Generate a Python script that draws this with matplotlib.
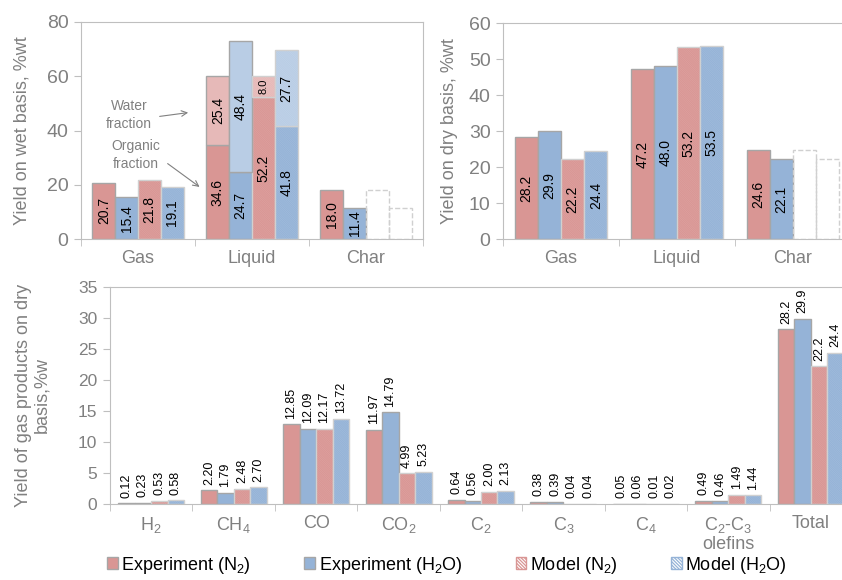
import numpy as np
import matplotlib
matplotlib.use('Agg')
import matplotlib.pyplot as plt
from matplotlib.patches import Patch

plt.rcParams['font.family'] = ['Liberation Sans', 'DejaVu Sans']
plt.rcParams['mathtext.default'] = 'regular'
plt.rcParams['hatch.linewidth'] = 0.9

# ---- data ----
top_cats = ['Gas', 'Liquid', 'Char']

# wet basis (%wt); liquid split in organic + water
wet_exp_n2 = [20.7, 34.6, 18.0]
wet_exp_h2o = [15.4, 24.7, 11.4]
wet_mod_n2 = [21.8, 52.2, 18.0]
wet_mod_h2o = [19.1, 41.8, 11.4]
water_exp_n2 = 25.4
water_exp_h2o = 48.4
water_mod_n2 = 8.0
water_mod_h2o = 27.7

# dry basis (%wt)
dry_exp_n2 = [28.2, 47.2, 24.6]
dry_exp_h2o = [29.9, 48.0, 22.1]
dry_mod_n2 = [22.2, 53.2, 24.6]
dry_mod_h2o = [24.4, 53.5, 22.1]

gas_cats = ['H$_2$', 'CH$_4$', 'CO', 'CO$_2$', 'C$_2$', 'C$_3$', 'C$_4$',
            'C$_2$-C$_3$\nolefins', 'Total']
gas_exp_n2 = [0.12, 2.20, 12.85, 11.97, 0.64, 0.38, 0.05, 0.49, 28.2]
gas_exp_h2o = [0.23, 1.79, 12.09, 14.79, 0.56, 0.39, 0.06, 0.46, 29.9]
gas_mod_n2 = [0.53, 2.48, 12.17, 4.99, 2.00, 0.04, 0.01, 1.49, 22.2]
gas_mod_h2o = [0.58, 2.70, 13.72, 5.23, 2.13, 0.04, 0.02, 1.44, 24.4]

series_names = ['Experiment (N$_2$)', 'Experiment (H$_2$O)',
                'Model (N$_2$)', 'Model (H$_2$O)']

RED = '#D99694'
BLUE = '#95B3D7'
LRED = '#E6B9B8'
LBLUE = '#B9CDE5'
EDGE = '#A6A6A6'
LEDGE = '#D0D0D0'
GREY = '#808080'
HATCH = '\\' * 18
W = 0.2
OFFS = [-0.3, -0.1, 0.1, 0.3]


def solid(ax, x, h, color, bottom=0):
    ax.bar(x, h, W, bottom=bottom, color=color, edgecolor=EDGE, linewidth=1)


def hatched(ax, x, h, color, bottom=0):
    ax.bar(x, h, W, bottom=bottom, color='white', edgecolor=color,
           hatch=HATCH, linewidth=0)
    ax.bar(x, h, W, bottom=bottom, fill=False, edgecolor=LEDGE, linewidth=1)


def dashed(ax, x, h):
    ax.bar(x, h, W, fill=False, edgecolor=LEDGE, linewidth=1, linestyle='--')


def style_axis(ax, ncat, ymax, ystep, ysize):
    for s in ax.spines.values():
        s.set_color('#BFBFBF')
    ax.set_xlim(-0.5, ncat - 0.5)
    ax.set_ylim(0, ymax)
    ax.set_yticks(np.arange(0, ymax + 0.1, ystep))
    ax.set_xticks(np.arange(-0.5, ncat), minor=True)
    ax.tick_params(axis='x', which='major', length=0, labelsize=13,
                   labelcolor=GREY, pad=8)
    ax.tick_params(axis='x', which='minor', length=5, color='#BFBFBF')
    ax.tick_params(axis='y', length=5, color='#BFBFBF', labelsize=ysize,
                   labelcolor=GREY, pad=4)


def inner_label(ax, x, bottom, h, text, size=10):
    ax.text(x, bottom + h / 2, text, rotation=90, ha='center', va='center',
            fontsize=size, color='black')


fig = plt.figure(figsize=(8.42, 5.80), dpi=100)
ax1 = fig.add_axes([81 / 842, 1 - 239 / 580, 342 / 842, 217 / 580])
ax2 = fig.add_axes([503 / 842, 1 - 239 / 580, 348 / 842, 216 / 580])
ax3 = fig.add_axes([110 / 842, 1 - 504 / 580, 742 / 842, 217 / 580])

# ---- wet basis ----
x = np.arange(len(top_cats))
for i in range(3):
    solid(ax1, x[i] + OFFS[0], wet_exp_n2[i], RED)
    solid(ax1, x[i] + OFFS[1], wet_exp_h2o[i], BLUE)
    inner_label(ax1, x[i] + OFFS[0], 0, wet_exp_n2[i], f'{wet_exp_n2[i]:.1f}')
    inner_label(ax1, x[i] + OFFS[1], 0, wet_exp_h2o[i], f'{wet_exp_h2o[i]:.1f}')
    if top_cats[i] == 'Char':
        dashed(ax1, x[i] + OFFS[2], wet_mod_n2[i])
        dashed(ax1, x[i] + OFFS[3], wet_mod_h2o[i])
    else:
        hatched(ax1, x[i] + OFFS[2], wet_mod_n2[i], RED)
        hatched(ax1, x[i] + OFFS[3], wet_mod_h2o[i], BLUE)
        inner_label(ax1, x[i] + OFFS[2], 0, wet_mod_n2[i], f'{wet_mod_n2[i]:.1f}')
        inner_label(ax1, x[i] + OFFS[3], 0, wet_mod_h2o[i], f'{wet_mod_h2o[i]:.1f}')

# water fraction on top of the liquid bars
li = top_cats.index('Liquid')
solid(ax1, li + OFFS[0], water_exp_n2, LRED, bottom=wet_exp_n2[li])
solid(ax1, li + OFFS[1], water_exp_h2o, LBLUE, bottom=wet_exp_h2o[li])
hatched(ax1, li + OFFS[2], water_mod_n2, LRED, bottom=wet_mod_n2[li])
hatched(ax1, li + OFFS[3], water_mod_h2o, LBLUE, bottom=wet_mod_h2o[li])
inner_label(ax1, li + OFFS[0], wet_exp_n2[li], water_exp_n2, f'{water_exp_n2:.1f}')
inner_label(ax1, li + OFFS[1], wet_exp_h2o[li], water_exp_h2o, f'{water_exp_h2o:.1f}')
inner_label(ax1, li + OFFS[2], wet_mod_n2[li], water_mod_n2, f'{water_mod_n2:.1f}', size=8)
inner_label(ax1, li + OFFS[3], wet_mod_h2o[li], water_mod_h2o, f'{water_mod_h2o:.1f}')

ax1.text(-0.08, 45.7, 'Water\nfraction', ha='center', va='center',
         fontsize=10, color=GREY, linespacing=1.3)
ax1.text(-0.02, 31, 'Organic\nfraction', ha='center', va='center',
         fontsize=10, color=GREY, linespacing=1.3)
arrow = dict(arrowstyle='->', color=GREY, lw=0.8, shrinkA=0, shrinkB=0)
ax1.annotate('', xy=(0.44, 46.6), xytext=(0.19, 45.2), arrowprops=arrow)
ax1.annotate('', xy=(0.54, 19.2), xytext=(0.26, 27.8), arrowprops=arrow)

style_axis(ax1, 3, 80, 20, 14)
ax1.set_xticks(x)
ax1.set_xticklabels(top_cats)
ax1.set_ylabel('Yield on wet basis, %wt', fontsize=13, color=GREY)
ax1.yaxis.set_label_coords(-0.148, 0.5)

# ---- dry basis ----
for i in range(3):
    solid(ax2, x[i] + OFFS[0], dry_exp_n2[i], RED)
    solid(ax2, x[i] + OFFS[1], dry_exp_h2o[i], BLUE)
    inner_label(ax2, x[i] + OFFS[0], 0, dry_exp_n2[i], f'{dry_exp_n2[i]:.1f}')
    inner_label(ax2, x[i] + OFFS[1], 0, dry_exp_h2o[i], f'{dry_exp_h2o[i]:.1f}')
    if top_cats[i] == 'Char':
        dashed(ax2, x[i] + OFFS[2], dry_mod_n2[i])
        dashed(ax2, x[i] + OFFS[3], dry_mod_h2o[i])
    else:
        hatched(ax2, x[i] + OFFS[2], dry_mod_n2[i], RED)
        hatched(ax2, x[i] + OFFS[3], dry_mod_h2o[i], BLUE)
        inner_label(ax2, x[i] + OFFS[2], 0, dry_mod_n2[i], f'{dry_mod_n2[i]:.1f}')
        inner_label(ax2, x[i] + OFFS[3], 0, dry_mod_h2o[i], f'{dry_mod_h2o[i]:.1f}')

style_axis(ax2, 3, 60, 10, 14)
ax2.set_xticks(x)
ax2.set_xticklabels(top_cats)
ax2.set_ylabel('Yield on dry basis, %wt', fontsize=13, color=GREY)
ax2.yaxis.set_label_coords(-0.13, 0.5)

# ---- gas products ----
xg = np.arange(len(gas_cats))
for vals, off, col, kind in [(gas_exp_n2, OFFS[0], RED, 's'),
                             (gas_exp_h2o, OFFS[1], BLUE, 's'),
                             (gas_mod_n2, OFFS[2], RED, 'h'),
                             (gas_mod_h2o, OFFS[3], BLUE, 'h')]:
    for i, v in enumerate(vals):
        if kind == 's':
            solid(ax3, xg[i] + off, v, col)
        else:
            hatched(ax3, xg[i] + off, v, col)
        txt = f'{v:.1f}' if gas_cats[i] == 'Total' else f'{v:.2f}'
        ax3.annotate(txt, (xg[i] + off, v), xytext=(0, 4),
                     textcoords='offset points', rotation=90,
                     ha='center', va='bottom', fontsize=9)

style_axis(ax3, len(gas_cats), 35, 5, 12.5)
ax3.set_xticks(xg)
ax3.set_xticklabels(gas_cats, linespacing=1.1)
ax3.set_ylabel('Yield of gas products on dry\nbasis,%w', fontsize=13,
               color=GREY, linespacing=1.1)
ax3.yaxis.set_label_coords(-0.08, 0.5)

handles = [Patch(facecolor=RED, edgecolor=EDGE),
           Patch(facecolor=BLUE, edgecolor=EDGE),
           Patch(facecolor='white', edgecolor=RED, hatch='\\' * 10),
           Patch(facecolor='white', edgecolor=BLUE, hatch='\\' * 10)]
fig.legend(handles, series_names, loc='center left',
           bbox_to_anchor=(107 / 842, 1 - 565 / 580), ncol=4, frameon=False,
           fontsize=13, handlelength=0.6, handleheight=0.6,
           handletextpad=0.2, columnspacing=2.95, borderpad=0,
           borderaxespad=0)

fig.savefig('out.png', dpi=100)
